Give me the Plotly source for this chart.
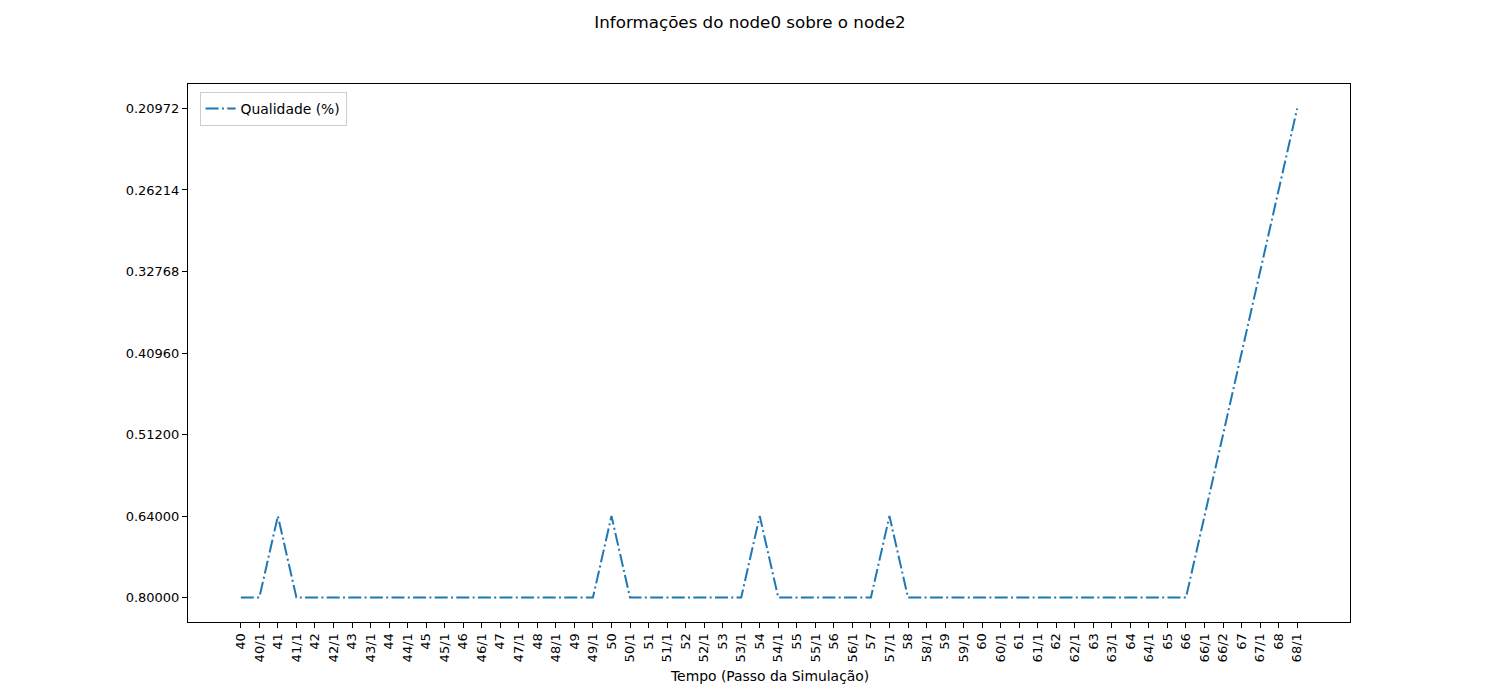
import plotly.graph_objects as go

x_labels = ["40", "40/1", "41", "41/1", "42", "42/1", "43", "43/1", "44", "44/1",
            "45", "45/1", "46", "46/1", "47", "47/1", "48", "48/1", "49", "49/1",
            "50", "50/1", "51", "51/1", "52", "52/1", "53", "53/1", "54", "54/1",
            "55", "55/1", "56", "56/1", "57", "57/1", "58", "58/1", "59", "59/1",
            "60", "60/1", "61", "61/1", "62", "62/1", "63", "63/1", "64", "64/1",
            "65", "66", "66/1", "66/2", "67", "67/1", "68", "68/1"]

y_categories = ["0.80000", "0.64000", "0.51200", "0.40960", "0.32768", "0.26214", "0.20972"]

peaks = {"41", "50", "54", "57/1"}
tail = {"66/1": "0.64000", "66/2": "0.51200", "67": "0.40960",
        "67/1": "0.32768", "68": "0.26214", "68/1": "0.20972"}

y_values = []
for lab in x_labels:
    if lab in tail:
        y_values.append(tail[lab])
    elif lab in peaks:
        y_values.append("0.64000")
    else:
        y_values.append("0.80000")

fig = go.Figure()
fig.add_trace(go.Scatter(
    x=x_labels, y=y_values, mode="lines", name="Qualidade (%)",
    line=dict(color="#1f77b4", width=2, dash="13px,3.3px,2px,3.3px"),
))

font_family = "DejaVu Sans"
fs = 13.9
tfs = 13
fig.update_layout(
    width=1500, height=700,
    paper_bgcolor="white", plot_bgcolor="white",
    margin=dict(l=180, r=158, t=76, b=86),
    font=dict(family=font_family, size=fs, color="black"),
    title=dict(text="Informações do node0 sobre o node2", x=(750 - 8) / 1500, xanchor="center",
               y=1 - 14 / 700, yanchor="middle", yref="container",
               font=dict(size=16.7, family=font_family, color="black")),
    showlegend=True,
    legend=dict(x=0.01, y=0.985, xanchor="left", yanchor="top",
                bgcolor="rgba(255,255,255,0.8)", bordercolor="#cccccc", borderwidth=1,
                font=dict(size=fs, family=font_family)),
    xaxis=dict(type="category", categoryorder="array", categoryarray=x_labels,
               range=[-2.85, 59.85], showgrid=False, zeroline=False,
               showline=True, linecolor="black", linewidth=1, mirror=True,
               ticks="outside", ticklen=5, tickcolor="black", tickwidth=1,
               tickangle=-90, tickfont=dict(size=tfs, family=font_family)),
    yaxis=dict(type="category", categoryorder="array", categoryarray=y_categories,
               range=[-0.3, 6.3], showgrid=False, zeroline=False,
               showline=True, linecolor="black", linewidth=1, mirror=True,
               ticks="outside", ticklen=5, tickcolor="black", tickwidth=1,
               tickfont=dict(size=tfs, family=font_family)),
    annotations=[dict(text="Tempo (Passo da Simulação)", xref="paper", yref="paper",
                      x=0.5, y=-(676 - 622) / 538, xanchor="center", yanchor="middle",
                      showarrow=False, font=dict(size=fs, family=font_family))],
)

fig.write_html("out.html")
